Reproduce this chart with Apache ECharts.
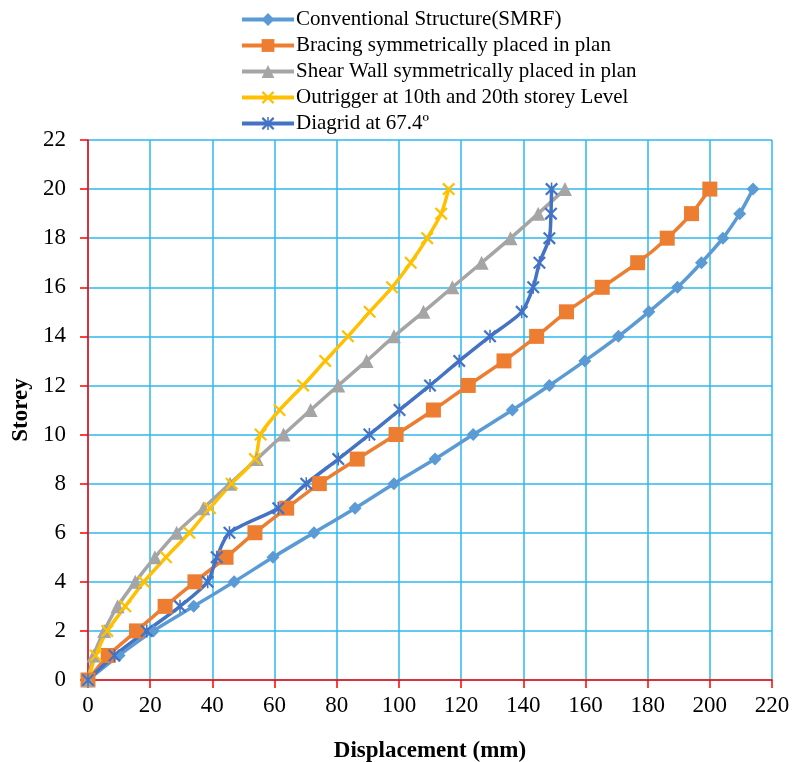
<!DOCTYPE html>
<html>
<head>
<meta charset="utf-8">
<script src="https://cdn.jsdelivr.net/npm/echarts@6/dist/echarts.min.js"></script>
<style>
  html, body { margin: 0; padding: 0; background: #fff; }
  #chart { width: 795px; height: 762px; }
</style>
</head>
<body>
<div id="chart"></div>
<script>
// storey levels (y) and displacement in mm (x) per system
var storeys = [0, 1, 2, 3, 4, 5, 6, 7, 8, 9, 10, 11, 12, 13, 14, 15, 16, 17, 18, 19, 20];
var conventional = [0, 10, 21, 34, 47, 59.5, 72.7, 85.9, 98.4, 111.6, 123.9, 136.5, 148.4, 159.8, 170.6, 180.4, 189.6, 197.3, 204.2, 209.6, 213.9];
var bracing = [0, 6.5, 15.6, 24.8, 34.4, 44.4, 53.7, 63.9, 74.4, 86.6, 99.1, 111.1, 122.3, 133.8, 144.3, 153.9, 165.4, 176.8, 186.3, 194.1, 200];
var shearWall = [0, 1.8, 5.2, 9.5, 15.2, 21.5, 28.5, 37.1, 45.7, 54.3, 62.9, 71.6, 80.5, 89.6, 98.4, 107.9, 117.2, 126.6, 135.9, 144.8, 153.4];
var outrigger = [0, 2.5, 6.2, 12, 18, 25.1, 32.6, 39.2, 46.2, 53.7, 55.5, 61.6, 69.2, 76.3, 83.6, 90.6, 97.8, 103.8, 109.1, 113.6, 116];
var diagrid = [0, 8.5, 18.9, 29.6, 38.5, 41.4, 45.5, 61.2, 70.2, 80.5, 90.5, 100.2, 110, 119.4, 129.3, 139.5, 143.2, 145.2, 148.4, 148.9, 149.1];

var seriesNames = [
  'Conventional Structure(SMRF)',
  'Bracing symmetrically placed in plan',
  'Shear Wall symmetrically placed in plan',
  'Outrigger at 10th and 20th storey Level',
  'Diagrid at 67.4\u00BA'
];

var font = '"Liberation Serif", "Times New Roman", serif';

// X and asterisk markers as filled shapes
var crossPath = 'path://M0,1.2L1.2,0L10,8.8L8.8,10Z M8.8,0L10,1.2L1.2,10L0,8.8Z';
var starPath = 'path://M0,1.2L1.2,0L10,8.8L8.8,10Z M8.8,0L10,1.2L1.2,10L0,8.8Z M4.4,0L5.6,0L5.6,10L4.4,10Z';

function pairs(xs) {
  return xs.map(function (x, i) { return [x, storeys[i]]; });
}

function makeSeries(name, values, color, symbol, size) {
  return {
    name: name,
    type: 'line',
    data: pairs(values),
    smooth: 0.25,
    symbol: symbol,
    symbolSize: size,
    showAllSymbol: true,
    lineStyle: { color: color, width: 3.5 },
    itemStyle: { color: color }
  };
}

var chart = echarts.init(document.getElementById('chart'), null, { renderer: 'canvas' });

var option = {
  animation: false,
  backgroundColor: '#fff',
  textStyle: { fontFamily: font },
  legend: {
    orient: 'vertical',
    left: 235,
    top: 4,
    itemWidth: 52,
    itemHeight: 16,
    itemGap: 5,
    lineStyle: { width: 4 },
    textStyle: { fontFamily: font, fontSize: 21, color: '#000', lineHeight: 21, padding: [0, 0, 0, -3] },
    data: seriesNames
  },
  grid: {
    left: 88,
    right: 23,
    top: 140,
    bottom: 82,
    containLabel: false,
    outerBoundsMode: 'none'
  },
  xAxis: {
    type: 'value',
    min: 0,
    max: 220,
    interval: 20,
    name: 'Displacement (mm)',
    nameLocation: 'middle',
    nameGap: 60,
    nameTextStyle: { fontFamily: font, fontSize: 23, fontWeight: 'bold', color: '#000' },
    axisLine: { show: true, onZero: false, lineStyle: { color: '#ff0000', width: 1.5 } },
    axisTick: { show: true, inside: false, length: 8, lineStyle: { color: '#ff0000', width: 1.5 } },
    axisLabel: { fontFamily: font, fontSize: 23, color: '#000', margin: 14 },
    splitLine: { show: true, lineStyle: { color: '#2cb7ee', width: 1.5 } }
  },
  yAxis: {
    type: 'value',
    min: 0,
    max: 22,
    interval: 2,
    name: 'Storey',
    nameLocation: 'middle',
    nameGap: 54,
    nameTextStyle: { fontFamily: font, fontSize: 23, fontWeight: 'bold', color: '#000' },
    axisLine: { show: true, onZero: false, lineStyle: { color: '#ff0000', width: 1.5 } },
    axisTick: { show: true, inside: false, length: 8, lineStyle: { color: '#ff0000', width: 1.5 } },
    axisLabel: { fontFamily: font, fontSize: 23, color: '#000', margin: 22 },
    splitLine: { show: true, lineStyle: { color: '#2cb7ee', width: 1.5 } }
  },
  series: [
    makeSeries(seriesNames[0], conventional, '#5b9bd5', 'diamond', 13),
    makeSeries(seriesNames[1], bracing, '#ed7d31', 'rect', 15),
    makeSeries(seriesNames[2], shearWall, '#a5a5a5', 'triangle', 14),
    makeSeries(seriesNames[3], outrigger, '#ffc000', crossPath, 13),
    makeSeries(seriesNames[4], diagrid, '#4472c4', starPath, 13)
  ]
};

chart.setOption(option);
</script>
</body>
</html>
